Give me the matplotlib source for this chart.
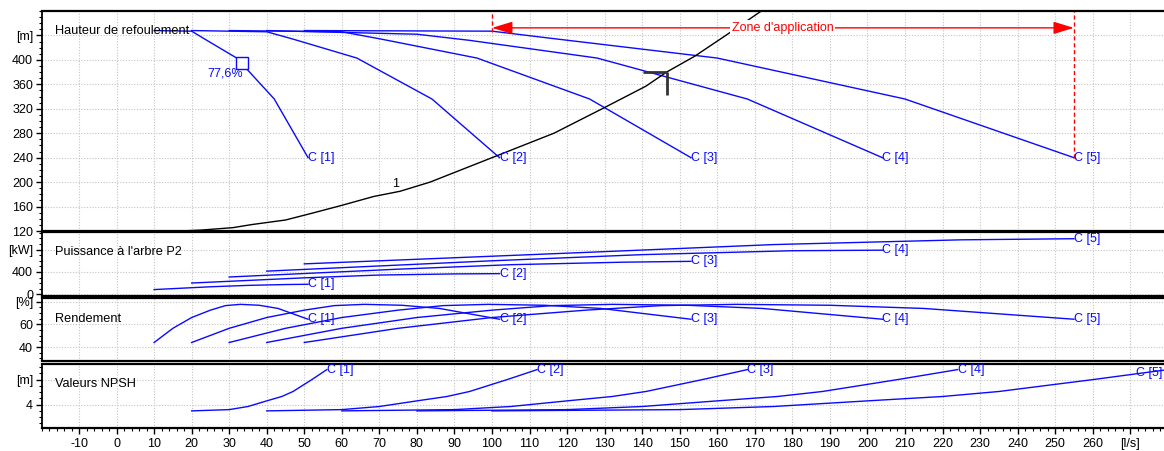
import matplotlib
matplotlib.use("Agg")
import matplotlib.pyplot as plt
from matplotlib.ticker import MultipleLocator, FixedLocator, FixedFormatter

plt.rcParams["font.family"] = ["Liberation Sans", "DejaVu Sans"]

BLUE = "#0a0aff"
FS = 9

curve_names = ["C [1]", "C [2]", "C [3]", "C [4]", "C [5]"]

# head curves (l/s, m)
head_flow = [
    [10, 20, 23.5, 32, 42, 51],
    [20, 40, 47, 64, 84, 102],
    [30, 60, 70.5, 96, 126, 153],
    [40, 80, 94, 128, 168, 204],
    [50, 100, 117.5, 160, 210, 255],
]
head_vals = [
    [448, 447, 434, 403, 336, 240],
    [448, 446, 434, 403, 336, 240],
    [448, 446, 434, 403, 336, 240],
    [448, 442, 432, 403, 336, 240],
    [448, 447, 434, 403, 336, 240],
]

# system curve "1"
sys_flow = [17, 22.5, 31, 36, 45, 52, 60, 68.5, 75.5, 83.5, 100, 116.5,
            129.5, 141, 146.5, 154, 162.5, 171.5]
sys_head = [120, 121.5, 125.5, 130.5, 138, 149, 162, 176.5, 185, 200, 240,
            280, 320.5, 357, 380, 406, 441, 479]

# best efficiency point on C [1]
bep_flow = 33.4
bep_head = 394.5
bep_label = "77,6%"

# duty point marker
duty_flow = [140.2, 146.5]
duty_head = [381, 342]

# application zone
zone_left = 100
zone_right = 255
zone_level = 452.4

# shaft power P2 (kW)
power_flow = [
    [10, 25, 35, 45, 51],
    [20, 50, 70, 90, 102],
    [30, 75, 105, 135, 153],
    [40, 100, 140, 180, 204],
    [50, 125, 175, 225, 255],
]
power_vals = [
    [85, 135, 160, 175, 180],
    [202, 295, 345, 365, 370],
    [310, 450, 530, 575, 590],
    [415, 600, 710, 780, 790],
    [545, 750, 890, 975, 995],
]

# efficiency (%)
eff_flow = [
    [10, 15, 20, 25, 29, 33, 38, 43, 51],
    [20, 30, 40, 50, 58, 66, 76, 86, 102],
    [30, 45, 60, 75, 87, 99, 114, 129, 153],
    [40, 60, 80, 100, 116, 132, 152, 172, 204],
    [50, 75, 100, 125, 145, 165, 190, 215, 255],
]
eff_vals = [44, 56.5, 66, 72.5, 76.5, 77.6, 76.8, 74, 64.5]

# NPSH (m)
npsh_flow = [
    [20, 30, 35, 40, 44, 47, 52, 56],
    [40, 60, 70, 80, 88, 94, 104, 112],
    [60, 90, 105, 120, 132, 141, 156, 168],
    [80, 120, 140, 160, 176, 188, 208, 224],
    [100, 150, 175, 200, 220, 235, 260, 280],
]
npsh_vals = [3.0, 3.2, 3.7, 4.6, 5.3, 6.1, 8.0, 9.6]

x_ticks = list(range(-10, 280, 10))
x_labels = [str(v) for v in x_ticks[:-1]] + ["[l/s]"]

W, H = 1164, 451
fig = plt.figure(figsize=(W / 100, H / 100), dpi=100)


def make_axes(top_px, bottom_px):
    left = 41.5 / W
    ax = fig.add_axes([left, (H - bottom_px) / H, 1 - left, (bottom_px - top_px) / H])
    ax.set_xlim(-20, 279)
    ax.xaxis.set_major_locator(FixedLocator(x_ticks))
    ax.xaxis.set_minor_locator(MultipleLocator(2))
    ax.grid(True, which="major", color="#c4c4c4", linestyle=(0, (1, 1.5)), lw=0.8)
    ax.set_axisbelow(True)
    for side in ("top", "bottom"):
        ax.spines[side].set_linewidth(1.6)
    ax.spines["left"].set_linewidth(1.3)
    ax.spines["right"].set_visible(False)
    ax.tick_params(axis="y", which="major", direction="out", length=4, width=1,
                   labelsize=FS, pad=2)
    ax.tick_params(axis="y", which="minor", direction="out", length=2, width=0.8)
    ax.tick_params(axis="x", which="both", length=0, labelbottom=False)
    return ax


def set_yticks(ax, ticks, labels, minor):
    ax.yaxis.set_major_locator(FixedLocator(ticks))
    ax.yaxis.set_major_formatter(FixedFormatter(labels))
    ax.yaxis.set_minor_locator(MultipleLocator(minor))


def panel_title(ax, text, y):
    ax.text(0.012, y, text, transform=ax.transAxes, ha="left", va="center",
            fontsize=FS + 0.2, color="black")


def end_label(ax, x, y, text):
    ax.text(x, y, text, ha="left", va="center", color=BLUE, fontsize=FS,
            clip_on=True)


# ---- head panel
ax_h = make_axes(11, 231)
ax_h.set_ylim(120, 480)
set_yticks(ax_h, [120, 160, 200, 240, 280, 320, 360, 400, 440],
           ["120", "160", "200", "240", "280", "320", "360", "400", "[m]"], 10)
panel_title(ax_h, "Hauteur de refoulement", 0.91)
for q, h, name in zip(head_flow, head_vals, curve_names):
    ax_h.plot(q, h, color=BLUE, lw=1)
    end_label(ax_h, q[-1], h[-1], name)
ax_h.plot(sys_flow, sys_head, color="black", lw=1)
ax_h.text(74.4, 196.6, "1", ha="center", va="center", fontsize=FS)
ax_h.plot(bep_flow, bep_head, marker="s", ms=8, mfc="white", mec=BLUE, mew=1, zorder=5)
ax_h.text(bep_flow + 0.3, 377, bep_label, ha="right", va="center", color=BLUE, fontsize=FS)
ax_h.plot([duty_flow[0], duty_flow[1]], [duty_head[0], duty_head[0]], color="#333333",
          lw=2, solid_capstyle="butt")
ax_h.plot([duty_flow[1], duty_flow[1]], [duty_head[0], duty_head[1]], color="#333333",
          lw=2, solid_capstyle="butt")
ax_h.plot([zone_left, zone_left], [445, 480], color="red", lw=1, dashes=(3, 2))
ax_h.plot([zone_right, zone_right], [240, 480], color="red", lw=1, dashes=(3, 2))
ax_h.annotate("", xy=(zone_left, zone_level), xytext=(zone_right, zone_level),
              arrowprops=dict(arrowstyle="<|-|>,head_length=1.25,head_width=0.38",
                              color="red", lw=1, shrinkA=0, shrinkB=0,
                              mutation_scale=10))
ax_h.text((zone_left + zone_right) / 2, zone_level, "Zone d'application", color="red",
          ha="center", va="center", fontsize=FS,
          bbox=dict(facecolor="white", edgecolor="none", pad=1.2))

# ---- power panel
ax_p = make_axes(232, 296)
ax_p.set_ylim(-30, 1115)
set_yticks(ax_p, [0, 400, 800], ["0", "400", "[kW]"], 100)
panel_title(ax_p, "Puissance à l'arbre P2", 0.69)
for q, p, name in zip(power_flow, power_vals, curve_names):
    ax_p.plot(q, p, color=BLUE, lw=1)
    end_label(ax_p, q[-1], p[-1], name)

# ---- efficiency panel
ax_e = make_axes(298, 361)
ax_e.set_ylim(27.7, 83.2)
set_yticks(ax_e, [40, 60, 80], ["40", "60", "[%]"], 5)
panel_title(ax_e, "Rendement", 0.67)
for q, name in zip(eff_flow, curve_names):
    ax_e.plot(q, eff_vals, color=BLUE, lw=1)
    end_label(ax_e, q[-1], eff_vals[-1], name)

# ---- NPSH panel
ax_n = make_axes(364, 428)
ax_n.set_ylim(0.26, 10.5)
set_yticks(ax_n, [4, 8], ["4", "[m]"], 1)
panel_title(ax_n, "Valeurs NPSH", 0.69)
for i, (q, name) in enumerate(zip(npsh_flow, curve_names)):
    ax_n.plot(q, npsh_vals, color=BLUE, lw=1)
    if i < 4:
        end_label(ax_n, q[-1], npsh_vals[-1], name)
    else:
        end_label(ax_n, 271.5, 9.0, name)
ax_n.xaxis.set_major_formatter(FixedFormatter(x_labels))
ax_n.tick_params(axis="x", which="major", direction="out", length=4, width=1,
                 labelbottom=True, labelsize=FS, pad=3)
ax_n.tick_params(axis="x", which="minor", direction="out", length=2, width=0.8)

fig.savefig("out.png", dpi=100)
